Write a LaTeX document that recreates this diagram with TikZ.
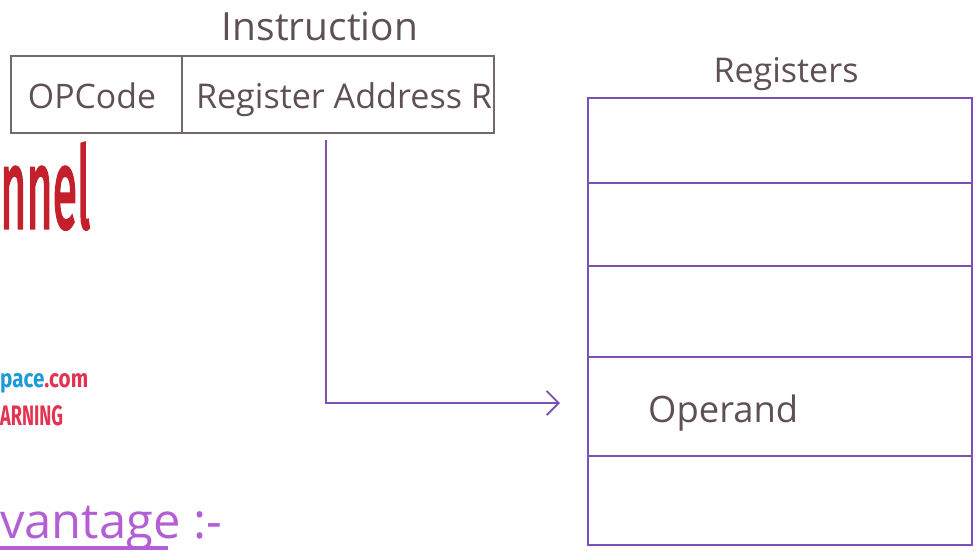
\documentclass[tikz,border=0pt]{standalone}
\usepackage{fontspec}
\setmainfont{Open Sans}
\newfontfamily\wmfont{Fira Sans}
\newfontfamily\wmheavy[FakeBold=3]{Fira Sans}
\usetikzlibrary{arrows.meta}
\definecolor{ink}{HTML}{5E5054}
\definecolor{boxgray}{HTML}{74686C}
\definecolor{regpurple}{HTML}{7D50B4}
\definecolor{wmred}{HTML}{C4202C}
\definecolor{wmblue}{HTML}{1E9AD6}
\definecolor{wmpink}{HTML}{E23350}
\definecolor{hwpurple}{HTML}{B45ED6}
\begin{document}
\begin{tikzpicture}[x=1pt,y=-1pt,
  instcell/.style={draw=boxgray, line width=1.8pt, rectangle, inner sep=0pt, anchor=north west},
  regcell/.style={draw=regpurple, line width=2.2pt, rectangle, inner sep=0pt, anchor=north west, minimum width=384pt},
  hw/.style={text=ink, inner sep=0pt, font=\fontsize{28}{30}\selectfont},
  wm/.style={inner sep=0pt, font=\wmfont\bfseries},
  flow/.style={draw=regpurple, line width=1.8pt, -{Straight Barb[length=12pt,width=24pt,line width=1.8pt]}}
]
\useasboundingbox (0,0) rectangle (976,550);

% instruction format
\node[hw, anchor=base] (insttitle) at (320,40) {\resizebox{196pt}{!}{Instruction}};
\node[instcell, minimum width=171pt, minimum height=77pt] (opcode) at (10,55) {};
\node[instcell, minimum width=312pt, minimum height=77pt] (regaddr) at (181,55) {};
\node[hw, anchor=base] (opcodetxt) at (92,108) {\resizebox{128pt}{!}{OPCode}};
\node[hw, anchor=base] (regaddrtxt) at (344,108) {\resizebox{296pt}{!}{Register Address R}};

% registers
\node[hw, anchor=base] (regtitle) at (786,82) {\resizebox{145pt}{!}{Registers}};
\node[regcell, minimum height=85pt] (reg1) at (587,97) {};
\node[regcell, minimum height=83pt] (reg2) at (587,182) {};
\node[regcell, minimum height=91pt] (reg3) at (587,265) {};
\node[regcell, minimum height=99pt] (reg4) at (587,356) {};
\node[regcell, minimum height=89pt] (reg5) at (587,455) {};
\node[hw, anchor=base west] (operand) at (648,422) {\resizebox{150pt}{!}{Operand}};

% connector
\coordinate (start) at (326,140);
\coordinate (corner) at (326,403);
\draw[flow, shorten >=27pt] (start) -- (corner) -- (corner -| reg4.west);

% cropped watermark fragments
\node[inner sep=0pt, text=wmred, anchor=base west] (wm1) at (0,228) {\resizebox{90pt}{85pt}{\wmheavy nnel}};
\node[wm, anchor=base west] (wm2) at (0,387) {\resizebox{88pt}{14pt}{\textcolor{wmblue}{pace}\textcolor{wmpink}{.com}}};
\node[wm, text=wmpink, anchor=base west] (wm3) at (0,425) {\resizebox{63pt}{20pt}{ARNING}};
\node[text=hwpurple, inner sep=0pt, anchor=base west] (adv) at (0,538) {\resizebox{222pt}{!}{vantage :-}};
\coordinate (ulA) at (0,548);
\coordinate (ulB) at (168,548);
\draw[hwpurple, line width=4pt] (ulA) -- (ulB);
\end{tikzpicture}
\end{document}
